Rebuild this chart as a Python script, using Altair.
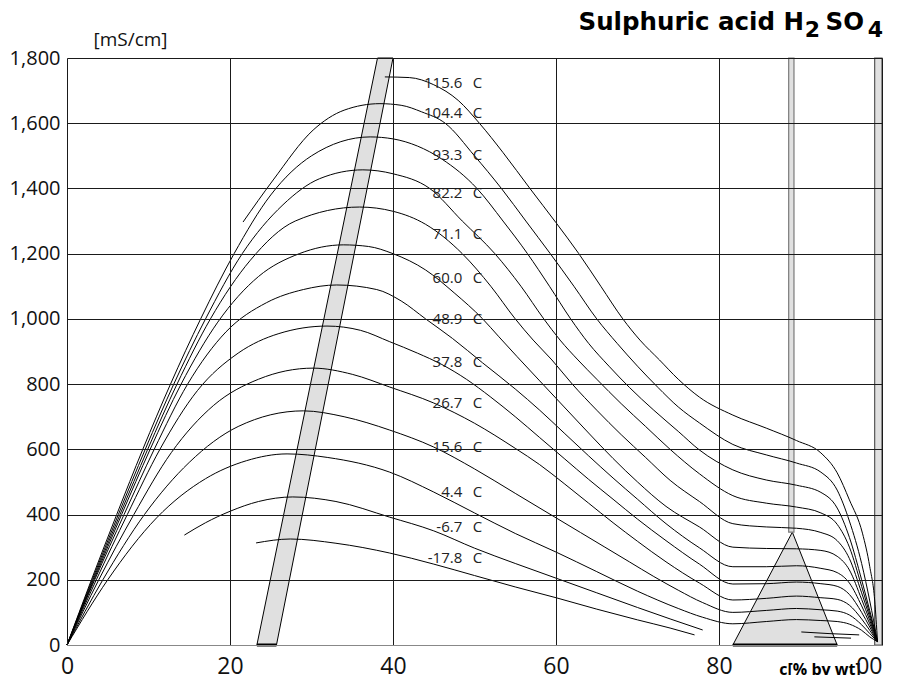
import altair as alt
import pandas as pd

# ---------------- data ----------------
temps = ["115.6", "104.4", "93.3", "82.2", "71.1", "60.0", "48.9",
         "37.8", "26.7", "15.6", "4.4", "-6.7", "-17.8"]
label_k = [1722, 1630, 1502, 1385, 1260, 1124, 999, 869, 743, 608, 470, 363, 266]

x_115_6 = [39.0, 42, 45, 48, 50.6, 53.5, 56.8, 60, 62.8, 65.5, 68.2, 70.3, 72.7, 75, 77.6, 81.7, 85.8, 89.5, 92.5, 94.5, 96, 97.6, 98.5, 99.1, 99.45]
y_115_6 = [1742, 1740, 1718, 1670, 1600, 1510, 1400, 1295, 1200, 1100, 1000, 935, 874, 815, 760, 705, 665, 627, 589, 528, 445, 343, 240, 138, 10]

x_104_4 = [21.6, 25.3, 30.2, 34, 38.4, 41, 43.5, 46.4, 50, 53.3, 56.3, 59.3, 62.2, 65, 67.5, 70, 72.5, 75, 77.6, 81.7, 85.8, 89.5, 92.5, 94.5, 96, 97.5, 98.5, 99.45]
y_104_4 = [1297, 1426, 1579, 1640, 1660, 1655, 1635, 1600, 1500, 1400, 1300, 1200, 1100, 1000, 925, 855, 790, 730, 681, 615, 583, 558, 530, 475, 380, 250, 135, 10]

x_93_3 = [0, 3, 6.1, 9.3, 12.7, 16.4, 20.5, 25, 30, 37.2, 40, 43, 46, 50.3, 53.5, 56.5, 59.2, 61.8, 64, 66.5, 69, 72, 75, 77.6, 81.7, 85.8, 89.5, 92.5, 94.5, 96, 97.5, 98.5, 99.45]
y_93_3 = [0, 200, 400, 600, 800, 1000, 1200, 1380, 1500, 1558, 1552, 1530, 1490, 1400, 1300, 1200, 1100, 1000, 925, 855, 790, 720, 655, 598, 537, 506, 490, 468, 420, 330, 200, 105, 10]

x_82_2 = [0, 3.1, 6.3, 9.6, 13.1, 17, 21.5, 26.5, 31, 36.3, 40, 44.5, 48.5, 52.5, 55.7, 58.5, 60.5, 62.7, 65, 68, 71, 74, 77.6, 81.7, 85.8, 89.5, 92.5, 94.5, 96, 97.5, 98.5, 99.45]
y_82_2 = [0, 200, 400, 600, 800, 1000, 1200, 1350, 1430, 1457, 1445, 1400, 1300, 1200, 1100, 1000, 935, 874, 815, 740, 670, 600, 525, 458, 435, 423, 405, 370, 300, 180, 95, 10]

x_71_1 = [0, 3.2, 6.5, 9.9, 13.5, 17.6, 22.5, 28, 35.9, 40, 44, 48.5, 52, 55, 57.2, 59.5, 62, 65, 68, 71, 74, 77.6, 81.7, 85.8, 89.5, 92.5, 94.5, 96, 97.5, 98.5, 99.45]
y_71_1 = [0, 200, 400, 600, 800, 1000, 1180, 1300, 1343, 1330, 1290, 1200, 1100, 1000, 935, 874, 800, 720, 645, 575, 505, 440, 372, 362, 358, 345, 320, 265, 160, 85, 10]

x_60_0 = [0, 3.3, 6.7, 10.2, 14, 18.5, 23.5, 28.5, 33.9, 37, 40, 44, 47.5, 51, 53, 55.2, 58, 61, 64, 67, 70, 73.5, 77.6, 81.7, 85.8, 89.5, 92.5, 94.5, 96, 97.5, 98.5, 99.45]
y_60_0 = [0, 200, 400, 600, 800, 990, 1130, 1200, 1227, 1222, 1200, 1150, 1080, 1000, 945, 885, 810, 730, 650, 572, 500, 425, 362, 300, 296, 295, 290, 272, 230, 140, 75, 10]

x_48_9 = [0, 3.4, 7, 10.7, 14.8, 19.5, 24.5, 29, 33.1, 38, 41, 44, 47.3, 51, 55, 58, 61, 64, 67, 70, 73.5, 77.6, 81.7, 85.8, 89.5, 92.5, 94.5, 96, 97.5, 98.5, 99.45]
y_48_9 = [0, 200, 400, 600, 800, 960, 1050, 1090, 1104, 1090, 1055, 1000, 940, 865, 785, 720, 650, 580, 512, 447, 372, 298, 240, 240, 243, 235, 222, 190, 120, 65, 10]

x_37_8 = [0, 3.6, 7.4, 11.4, 16, 21, 26, 31.9, 36, 39.6, 43, 46, 49, 52, 55, 58, 61, 64, 67, 70, 73.5, 77.6, 81.7, 85.8, 89.5, 92.5, 94.5, 96, 97.5, 98.5, 99.45]
y_37_8 = [0, 200, 400, 600, 780, 895, 955, 978, 965, 930, 895, 860, 815, 760, 700, 636, 572, 508, 447, 386, 320, 248, 187, 188, 193, 188, 180, 155, 100, 55, 10]

x_26_7 = [0, 3.9, 8.2, 12.8, 18, 23.5, 30.2, 35, 39.6, 45, 50, 55, 58, 61, 64, 67, 70, 73.5, 77.6, 81.7, 85.8, 89.5, 92.5, 94.5, 96, 97.5, 98.5, 99.45]
y_26_7 = [0, 200, 400, 590, 735, 815, 849, 830, 791, 742, 680, 603, 553, 495, 435, 375, 318, 255, 190, 138, 143, 150, 145, 140, 122, 80, 45, 10]

x_15_6 = [0, 4.4, 9.5, 15, 21, 29, 34, 39.6, 45, 50, 55, 60, 63, 66, 69, 72, 75, 78, 81.7, 85.8, 89.5, 92.5, 94.5, 96, 97.5, 98.5, 99.45]
y_15_6 = [0, 200, 400, 560, 670, 718, 700, 659, 607, 540, 465, 390, 345, 300, 255, 210, 168, 130, 100, 106, 112, 108, 104, 92, 62, 35, 10]

x_4_4 = [0, 5.0, 11, 17, 22, 27, 32, 39.6, 45, 50, 55, 60, 65, 70, 75, 78, 81.7, 85.8, 89.5, 92.5, 94.5, 96, 97.5, 98.5, 99.45]
y_4_4 = [0, 200, 390, 510, 565, 586, 575, 530, 469, 405, 342, 285, 225, 165, 112, 85, 65, 72, 78, 75, 72, 64, 45, 25, 10]

x_m6_7 = [14.4, 17, 20, 23.5, 27.7, 33, 39.6, 45, 50, 55, 60, 65, 70, 74, 78]
y_m6_7 = [337, 375, 410, 440, 454, 440, 392, 350, 297, 250, 205, 160, 115, 80, 46]
x_m6_7b = [90.1, 93.5, 97.2]
y_m6_7b = [40, 35, 31]

x_m17_8 = [23.2, 27.4, 33, 39.6, 45, 50, 55, 60, 65, 70, 74, 77]
y_m17_8 = [313, 325, 312, 282, 248, 213, 178, 145, 110, 77, 52, 31]
x_m17_8b = [91.7, 96.2]
y_m17_8b = [25, 21]

# grey reference bands
band_k = [0, 1800]
band_left = [23.3, 38.1]
band_right = [25.7, 40.0]
tri_k = [0, 346]
tri_left = [81.7, 89.0]
tri_right = [94.5, 89.0]
post_x = [88.55, 89.2]
post_k = [346, 1800]
edge_x = [99.1, 100]
edge_k = [0, 1800]

x_ticks = [0, 20, 40, 60, 80, 100]
y_ticks = [0, 200, 400, 600, 800, 1000, 1200, 1400, 1600, 1800]

# ---------------- build tables ----------------
series = [
    ("115.6", x_115_6, y_115_6), ("104.4", x_104_4, y_104_4), ("93.3", x_93_3, y_93_3),
    ("82.2", x_82_2, y_82_2), ("71.1", x_71_1, y_71_1), ("60.0", x_60_0, y_60_0),
    ("48.9", x_48_9, y_48_9), ("37.8", x_37_8, y_37_8), ("26.7", x_26_7, y_26_7),
    ("15.6", x_15_6, y_15_6), ("4.4", x_4_4, y_4_4), ("-6.7", x_m6_7, y_m6_7),
    ("-6.7b", x_m6_7b, y_m6_7b), ("-17.8", x_m17_8, y_m17_8), ("-17.8b", x_m17_8b, y_m17_8b),
]
rows = []
for name, xs, ys in series:
    for i, (xv, yv) in enumerate(zip(xs, ys)):
        rows.append({"curve": name, "c": xv, "k": yv, "i": i})
df = pd.DataFrame(rows)

lab = pd.DataFrame({"t": temps, "k": label_k, "c": [48.5] * len(temps), "cc": [49.8] * len(temps)})
band = pd.DataFrame({"k": band_k, "x1": band_left, "x2": band_right})
tri = pd.DataFrame({"k": tri_k, "x1": tri_left, "x2": tri_right})
rects = pd.DataFrame({"x1": [post_x[0], edge_x[0]], "x2": [post_x[1], edge_x[1]],
                      "k1": [post_k[0], edge_k[0]], "k2": [post_k[1], edge_k[1]],
                      "s": ["#7a7a7a", "#555555"]})
bases = pd.DataFrame({"x1": [band_left[0], tri_left[0]], "x2": [band_right[0], tri_right[0]], "k": [0, 0]})

FONT = "Open Sans"
TFONT = "DejaVu Sans"
xs_ = alt.Scale(domain=[0, 100], nice=False, zero=False)
ys_ = alt.Scale(domain=[0, 1800], nice=False, zero=False)

xaxis = alt.Axis(values=x_ticks, grid=True, ticks=False, domain=False, title=None,
                 labelFontSize=23, labelPadding=10, labelColor="#111", gridColor="#1a1a1a",
                 gridWidth=1, labelFont=FONT, zindex=1,
                 labelExpr="datum.value == 100 ? '00' : datum.label",
                 labelAlign={"expr": "datum.value == 100 ? 'right' : 'center'"})
yaxis = alt.Axis(values=y_ticks, grid=True, ticks=False, domain=False, format=",.0f",
                 labelFontSize=20, labelPadding=7, labelColor="#111", labelFont=FONT,
                 gridColor={"condition": {"test": "datum.value === 0", "value": "#888888"}, "value": "#1a1a1a"},
                 gridWidth=1, zindex=1,
                 title="[mS/cm]", titleAngle=0, titleFont=FONT, titleFontSize=19,
                 titleFontWeight="normal", titleColor="#111", titleX=63, titleY=-9,
                 titleAlign="center", titleBaseline="bottom")

band_layer = alt.Chart(band).mark_area(orient="horizontal", fill="#e0e0e0", stroke="black",
                                       strokeWidth=1).encode(
    y=alt.Y("k:Q", scale=ys_, axis=yaxis), x=alt.X("x1:Q", scale=xs_, axis=xaxis), x2="x2:Q")
tri_layer = alt.Chart(tri).mark_area(orient="horizontal", fill="#e0e0e0", stroke="black",
                                     strokeWidth=1).encode(y="k:Q", x="x1:Q", x2="x2:Q")
rect_layer = alt.Chart(rects).mark_rect(fill="#e0e0e0", strokeWidth=1.2).encode(
    x="x1:Q", x2="x2:Q", y="k1:Q", y2="k2:Q", stroke=alt.Stroke("s:N", scale=None))
base_layer = alt.Chart(bases).mark_rule(color="black", strokeWidth=3).encode(
    x="x1:Q", x2="x2:Q", y="k:Q")

lines = alt.Chart(df).mark_line(color="black", strokeWidth=1, interpolate="monotone").encode(
    x="c:Q", y="k:Q", detail="curve:N", order="i:Q")

num_text = alt.Chart(lab).mark_text(align="right", baseline="middle", fontSize=15, font=FONT,
                                    color="#222").encode(x="c:Q", y="k:Q", text="t:N")
c_text = alt.Chart(lab).mark_text(align="left", baseline="middle", fontSize=15, font=FONT,
                                  color="#222", text="C").encode(x="cc:Q", y="k:Q")

one = pd.DataFrame({"a": [0]})
def txt(s, px, py, size, weight="bold", align="right", font=TFONT):
    return alt.Chart(one).mark_text(text=s, align=align, baseline="alphabetic", fontSize=size,
                                    fontWeight=weight, font=font, color="black").encode(
        x=alt.value(px), y=alt.value(py))

title_layers = [
    txt("Sulphuric acid H", 737, -28, 24.5),
    txt("2", 753, -21, 22),
    txt("SO", 797, -28, 24.5),
    txt("4", 816, -21, 22),
    txt("c[% by wt]", 753, 617, 16, align="center", font=FONT),
]

chart = alt.layer(band_layer, tri_layer, rect_layer, base_layer, lines, num_text, c_text,
                  *title_layers).properties(
    width=815, height=587,
    autosize=alt.AutoSizeParams(type="none"),
    padding={"left": 59, "top": 50, "right": 9, "bottom": 30},
).configure_view(stroke=None).configure(font=FONT)

chart.save("out.html", embed_options={"renderer": "svg", "actions": False})
